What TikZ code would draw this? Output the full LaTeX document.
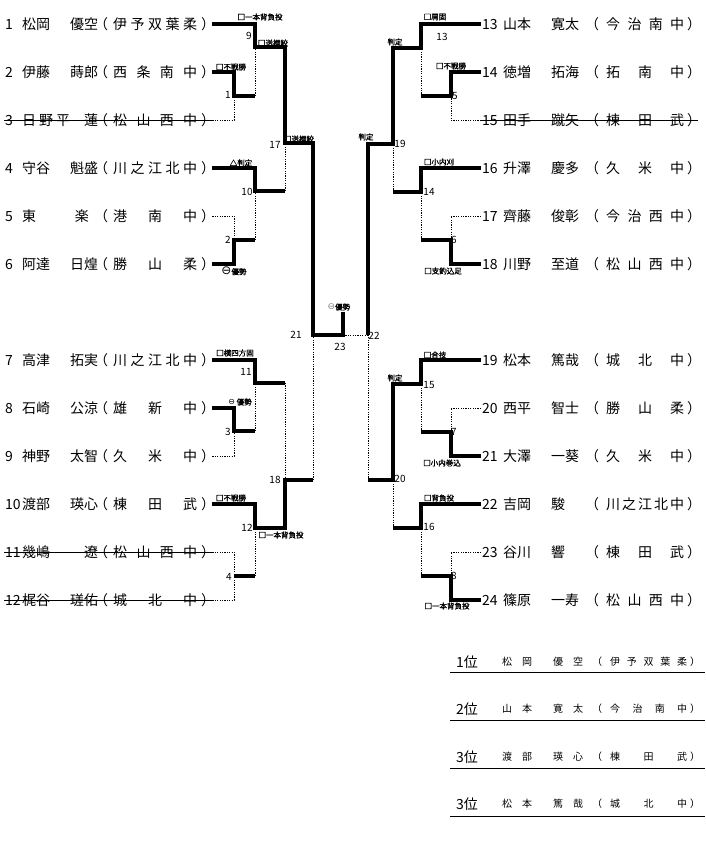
\documentclass[tikz,border=0pt]{standalone}
\usepackage{fontspec}
\setmainfont{Noto Sans CJK JP}
\newfontfamily\symfont{DejaVu Sans}
\newfontfamily\wazafont{Noto Sans CJK JP}[FakeBold=1.5]
\usepackage{tikz}
\newlength\numw
\newlength\pgap
\newlength\sgap
\newlength\egap
\newlength\schw
\newcommand\player[4]{\makebox[\numw][l]{#1}\makebox[48pt][s]{#2}\makebox[28pt][l]{#3}\kern\pgap\makebox[14pt][l]{（}\kern\sgap\makebox[\schw][s]{#4}\kern\egap\makebox[10pt][l]{）}}
\newcommand\rname[5]{\makebox[20pt][l]{#1}\makebox[31pt][l]{#2}\makebox[20pt][l]{#3}\makebox[19pt][l]{#4}\makebox[10pt][l]{（}\kern8pt\makebox[77pt][s]{#5}\kern3pt\makebox[10pt][l]{）}}
\newcommand\yusei[1]{{\symfont\fontsize{#1}{#1}\selectfont ⊖}}
\tikzset{
  win/.style={line width=3.5pt},
  lose/.style={line width=0.8pt, dash pattern=on 1.2pt off 1.2pt},
  strike/.style={line width=0.8pt},
  lplayer/.style={anchor=west, inner sep=1pt, font=\fontsize{14}{16}\selectfont},
  rplayer/.style={anchor=west, inner sep=1pt, font=\fontsize{14}{16}\selectfont},
  mno/.style={inner sep=0pt, font=\fontsize{10}{10}\selectfont},
  waza/.style={inner sep=0pt, font=\wazafont\fontsize{7.5}{8}\selectfont},
  rankno/.style={anchor=west, inner sep=0pt, font=\fontsize{14}{16}\selectfont},
  rankname/.style={anchor=west, inner sep=0pt, font=\fontsize{10}{12}\selectfont}
}

\begin{document}
\begin{tikzpicture}[x=1pt,y=-1pt]
\useasboundingbox (0,0) rectangle (705,841);

\setlength\numw{17pt}\setlength\pgap{-4pt}\setlength\sgap{5pt}\setlength\egap{4pt}\setlength\schw{84pt}
\node[lplayer] (p1) at (4,24) {\player{1}{松岡\hfill}{優空}{伊\hfill 予\hfill 双\hfill 葉\hfill 柔}};
\node[lplayer] (p2) at (4,72) {\player{2}{伊藤\hfill}{蒔郎}{西\hfill 条\hfill 南\hfill 中}};
\node[lplayer] (p3) at (4,120) {\player{3}{日\hfill 野\hfill 平}{\hfill 蓮}{松\hfill 山\hfill 西\hfill 中}};
\node[lplayer] (p4) at (4,168) {\player{4}{守谷\hfill}{魁盛}{川\hfill 之\hfill 江\hfill 北\hfill 中}};
\node[lplayer] (p5) at (4,216) {\player{5}{東\hfill}{\hfil 楽\hfil}{港\hfill 南\hfill 中}};
\node[lplayer] (p6) at (4,264) {\player{6}{阿達\hfill}{日煌}{勝\hfill 山\hfill 柔}};
\node[lplayer] (p7) at (4,360) {\player{7}{高津\hfill}{拓実}{川\hfill 之\hfill 江\hfill 北\hfill 中}};
\node[lplayer] (p8) at (4,408) {\player{8}{石崎\hfill}{公涼}{雄\hfill 新\hfill 中}};
\node[lplayer] (p9) at (4,456) {\player{9}{神野\hfill}{太智}{久\hfill 米\hfill 中}};
\node[lplayer] (p10) at (4,504) {\player{10}{渡部\hfill}{瑛心}{棟\hfill 田\hfill 武}};
\node[lplayer] (p11) at (4,552) {\player{11}{幾嶋\hfill}{\hfill 遼}{松\hfill 山\hfill 西\hfill 中}};
\node[lplayer] (p12) at (4,600) {\player{12}{梶谷\hfill}{瑳佑}{城\hfill 北\hfill 中}};

\setlength\numw{21pt}\setlength\pgap{6pt}\setlength\sgap{7pt}\setlength\egap{3pt}\setlength\schw{78pt}
\node[rplayer] (p13) at (481,24) {\player{13}{山本\hfill}{寛太}{今\hfill 治\hfill 南\hfill 中}};
\node[rplayer] (p14) at (481,72) {\player{14}{徳増\hfill}{拓海}{拓\hfill 南\hfill 中}};
\node[rplayer] (p15) at (481,120) {\player{15}{田手\hfill}{蹴矢}{棟\hfill 田\hfill 武}};
\node[rplayer] (p16) at (481,168) {\player{16}{升澤\hfill}{慶多}{久\hfill 米\hfill 中}};
\node[rplayer] (p17) at (481,216) {\player{17}{齊藤\hfill}{俊彰}{今\hfill 治\hfill 西\hfill 中}};
\node[rplayer] (p18) at (481,264) {\player{18}{川野\hfill}{至道}{松\hfill 山\hfill 西\hfill 中}};
\node[rplayer] (p19) at (481,360) {\player{19}{松本\hfill}{篤哉}{城\hfill 北\hfill 中}};
\node[rplayer] (p20) at (481,408) {\player{20}{西平\hfill}{智士}{勝\hfill 山\hfill 柔}};
\node[rplayer] (p21) at (481,456) {\player{21}{大澤\hfill}{一葵}{久\hfill 米\hfill 中}};
\node[rplayer] (p22) at (481,504) {\player{22}{吉岡\hfill}{駿\hfill}{川\hfill 之\hfill 江\hfill 北\hfill 中}};
\node[rplayer] (p23) at (481,552) {\player{23}{谷川\hfill}{響\hfill}{棟\hfill 田\hfill 武}};
\node[rplayer] (p24) at (481,600) {\player{24}{篠原\hfill}{一寿}{松\hfill 山\hfill 西\hfill 中}};

\draw[strike] (p3.west) -- (p3.east);
\draw[strike] (p11.west) -- (p11.east);
\draw[strike] (p12.west) -- (p12.east);
\draw[strike] (p15.west) -- (p15.east);

\coordinate (m1) at (234,96);
\coordinate (m2) at (234,240);
\coordinate (m3) at (234,431);
\coordinate (m4) at (234,576);
\coordinate (m9) at (255,47);
\coordinate (m10) at (255,191);
\coordinate (m11) at (255,383);
\coordinate (m12) at (255,528);
\coordinate (m17) at (285,143);
\coordinate (m18) at (285,480);
\coordinate (m21) at (313,335);
\coordinate (m23) at (343,335);
\coordinate (top) at (343,312);
\coordinate (m5) at (451,96);
\coordinate (m6) at (451,240);
\coordinate (m7) at (451,432);
\coordinate (m8) at (451,576);
\coordinate (m13) at (421,48);
\coordinate (m14) at (421,192);
\coordinate (m15) at (421,384);
\coordinate (m16) at (421,528);
\coordinate (m19) at (393,144);
\coordinate (m20) at (393,480);
\coordinate (m22) at (368,335);

\draw[win] (p1.east) -| (m9) -| (m17) -| (m21) -- (m23) -- (top);
\draw[win] (p2.east) -| (m1) -- (m1 -| m9);
\draw[lose] (p3.east) -| (m1);
\draw[lose] (m1 -| m9) -- (m9);
\draw[win] (p4.east) -| (m10) -- (m10 -| m17);
\draw[lose] (p5.east) -| (m2);
\draw[win] (p6.east) -| (m2) -- (m2 -| m10);
\draw[lose] (m2 -| m10) -- (m10);
\draw[lose] (m10 -| m17) -- (m17);
\draw[win] (p7.east) -| (m11) -- (m11 -| m18);
\draw[win] (p8.east) -| (m3) -- (m3 -| m11);
\draw[lose] (p9.east) -| (m3);
\draw[lose] (m3 -| m11) -- (m11);
\draw[lose] (m11 -| m18) -- (m18);
\draw[win] (p10.east) -| (m12) -| (m18) -- (m18 -| m21);
\draw[lose] (p11.east) -| (m4);
\draw[lose] (p12.east) -| (m4);
\draw[win] (m4) -- (m4 -| m12);
\draw[lose] (m4 -| m12) -- (m12);
\draw[lose] (m18 -| m21) -- (m21);
\draw[lose] (m23) -- (m22);

\draw[win] (p13.west) -| (m13) -| (m19) -| (m22);
\draw[win] (p14.west) -| (m5) -- (m5 -| m13);
\draw[lose] (p15.west) -| (m5);
\draw[lose] (m5 -| m13) -- (m13);
\draw[win] (p16.west) -| (m14) -- (m14 -| m19);
\draw[lose] (p17.west) -| (m6);
\draw[win] (p18.west) -| (m6) -- (m6 -| m14);
\draw[lose] (m6 -| m14) -- (m14);
\draw[lose] (m14 -| m19) -- (m19);
\draw[win] (p19.west) -| (m15) -| (m20) -- (m20 -| m22);
\draw[lose] (p20.west) -| (m7);
\draw[win] (p21.west) -| (m7) -- (m7 -| m15);
\draw[lose] (m7 -| m15) -- (m15);
\draw[win] (p22.west) -| (m16) -- (m16 -| m20);
\draw[lose] (p23.west) -| (m8);
\draw[win] (p24.west) -| (m8) -- (m8 -| m16);
\draw[lose] (m8 -| m16) -- (m16);
\draw[lose] (m16 -| m20) -- (m20);
\draw[lose] (m20 -| m22) -- (m22);

\node[mno] (n1) at (228,95) {1};
\node[mno] (n2) at (228,240) {2};
\node[mno] (n3) at (228,432) {3};
\node[mno] (n4) at (229,577) {4};
\node[mno] (n9) at (249,36) {9};
\node[mno] (n10) at (247,192) {10};
\node[mno] (n11) at (246,372) {11};
\node[mno] (n12) at (247,528) {12};
\node[mno] (n17) at (275,145) {17};
\node[mno] (n18) at (275,480) {18};
\node[mno] (n21) at (296,335) {21};
\node[mno] (n23) at (340,347) {23};
\node[mno] (n22) at (374,336) {22};
\node[mno] (n5) at (455,96) {5};
\node[mno] (n6) at (454,240) {6};
\node[mno] (n7) at (454,432) {7};
\node[mno] (n8) at (454,576) {8};
\node[mno] (n13) at (442,37) {13};
\node[mno] (n14) at (429,192) {14};
\node[mno] (n15) at (429,385) {15};
\node[mno] (n16) at (429,527) {16};
\node[mno] (n19) at (400,144) {19};
\node[mno] (n20) at (400,479) {20};

\node[waza] (w1) at (260,17) {□一本背負投};
\node[waza] (w2) at (273,43) {□送襟絞};
\node[waza] (w3) at (231,67) {□不戦勝};
\node[waza] (w4) at (299,139) {□送襟絞};
\node[waza] (w5) at (241,163) {△判定};
\node[waza] (w6) at (234,271) {\yusei{12}優勢};
\node[waza] (w7) at (339,307) {\color{gray}\yusei{9}\color{black}優勢};
\node[waza] (w8) at (235,353) {□横四方固};
\node[waza] (w9) at (240,402) {\yusei{8} 優勢};
\node[waza] (w10) at (231,498) {□不戦勝};
\node[waza] (w11) at (281,535) {□一本背負投};
\node[waza] (w12) at (435,17) {□肩固};
\node[waza] (w13) at (395,42) {判定};
\node[waza] (w14) at (451,66) {□不戦勝};
\node[waza] (w15) at (366,137) {判定};
\node[waza] (w16) at (439,162) {□小内刈};
\node[waza] (w17) at (443,271) {□支釣込足};
\node[waza] (w18) at (435,355) {□合技};
\node[waza] (w19) at (395,378) {判定};
\node[waza] (w20) at (442,463) {□小内巻込};
\node[waza] (w21) at (439,498) {□背負投};
\node[waza] (w22) at (447,606) {□一本背負投};

\node[rankno] (k1) at (456,662) {1位};
\node[rankname] (r1) at (502,662) {\rname{松}{岡}{優}{空}{伊\hfill 予\hfill 双\hfill 葉\hfill 柔}};
\draw (450,672) -- (705,672);
\node[rankno] (k2) at (456,709) {2位};
\node[rankname] (r2) at (502,709) {\rname{山}{本}{寛}{太}{今\hfill 治\hfill 南\hfill 中}};
\draw (450,720) -- (705,720);
\node[rankno] (k3) at (456,757) {3位};
\node[rankname] (r3) at (502,757) {\rname{渡}{部}{瑛}{心}{棟\hfill 田\hfill 武}};
\draw (450,768) -- (705,768);
\node[rankno] (k4) at (456,804) {3位};
\node[rankname] (r4) at (502,804) {\rname{松}{本}{篤}{哉}{城\hfill 北\hfill 中}};
\draw (450,816) -- (705,816);
\end{tikzpicture}
\end{document}
